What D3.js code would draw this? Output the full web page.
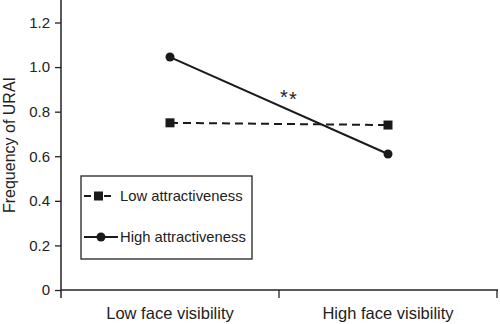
<!DOCTYPE html>
<html>
<head>
<meta charset="utf-8">
<script src="https://cdn.jsdelivr.net/npm/d3@7"></script>
<style>
  body { margin: 0; background: #fff; }
  svg { display: block; font-family: "Liberation Sans", Arial, sans-serif; }
</style>
</head>
<body>
<div id="chart"></div>
<script>
// Data
const categories = ['Low face visibility', 'High face visibility'];
const lowAttractiveness = [0.75, 0.74];
const highAttractiveness = [1.045, 0.61];
const yTicks = [0, 0.2, 0.4, 0.6, 0.8, 1.0, 1.2];
const seriesNames = ['Low attractiveness', 'High attractiveness'];

const width = 500, height = 324;
const svg = d3.select('#chart').append('svg')
    .attr('width', width)
    .attr('height', height);

const x = d3.scaleBand()
    .domain(categories)
    .range([61, 497])
    .padding(0);

const y = d3.scaleLinear()
    .domain([0, 1.2])
    .range([290, 22.5]);

// y axis
const yAxis = svg.append('g')
    .attr('transform', 'translate(61,0)')
    .call(d3.axisLeft(y).tickValues(yTicks).tickSize(6).tickPadding(5)
        .tickFormat(d => d === 0 ? '0' : d3.format('.1f')(d)));
yAxis.select('.domain').remove();
yAxis.selectAll('line').attr('stroke', '#222').attr('stroke-width', 1.3);
yAxis.selectAll('text').attr('font-size', 15).attr('fill', '#222')
    .attr('font-family', '"Liberation Sans", Arial, sans-serif');
svg.append('line')
    .attr('x1', 61).attr('x2', 61)
    .attr('y1', 0).attr('y2', y(0) + 8)
    .attr('stroke', '#222').attr('stroke-width', 1.5);

// x axis
const xAxis = svg.append('g')
    .attr('transform', `translate(0,${y(0)})`)
    .call(d3.axisBottom(x).tickSize(0).tickPadding(17));
xAxis.select('.domain').remove();
xAxis.selectAll('text').attr('font-size', 16.5).attr('fill', '#222')
    .attr('font-family', '"Liberation Sans", Arial, sans-serif');
svg.append('line')
    .attr('x1', 61).attr('x2', 498)
    .attr('y1', y(0)).attr('y2', y(0))
    .attr('stroke', '#222').attr('stroke-width', 1.5);
const bounds = [x(categories[0]), x(categories[1]), x(categories[1]) + x.bandwidth()];
svg.selectAll('.xtick')
    .data(bounds.slice(1))
    .enter().append('line')
    .attr('x1', d => d).attr('x2', d => d)
    .attr('y1', y(0)).attr('y2', y(0) + 8)
    .attr('stroke', '#222').attr('stroke-width', 1.3);

// y label
svg.append('text')
    .attr('transform', 'translate(15,145) rotate(-90)')
    .attr('text-anchor', 'middle')
    .attr('font-size', 16)
    .attr('fill', '#222')
    .text('Frequency of URAI');

const cx = d => x(d) + x.bandwidth() / 2;
const line = d3.line()
    .x((d, i) => cx(categories[i]))
    .y(d => y(d));

// low attractiveness (dashed, squares)
svg.append('path')
    .datum(lowAttractiveness)
    .attr('d', line)
    .attr('fill', 'none')
    .attr('stroke', '#1a1a1a')
    .attr('stroke-width', 2)
    .attr('stroke-dasharray', '8,5');
svg.selectAll('.sq')
    .data(lowAttractiveness)
    .enter().append('rect')
    .attr('x', (d, i) => cx(categories[i]) - 4.5)
    .attr('y', d => y(d) - 4.5)
    .attr('width', 9).attr('height', 9)
    .attr('fill', '#1a1a1a');

// high attractiveness (solid, circles)
svg.append('path')
    .datum(highAttractiveness)
    .attr('d', line)
    .attr('fill', 'none')
    .attr('stroke', '#1a1a1a')
    .attr('stroke-width', 2);
svg.selectAll('.dot')
    .data(highAttractiveness)
    .enter().append('circle')
    .attr('cx', (d, i) => cx(categories[i]))
    .attr('cy', d => y(d))
    .attr('r', 4.5)
    .attr('fill', '#1a1a1a');

// significance (two asterisks, second slightly lower)
svg.append('text')
    .attr('x', 284).attr('y', 104)
    .attr('text-anchor', 'middle')
    .attr('font-size', 20)
    .attr('fill', '#222')
    .text('*');
svg.append('text')
    .attr('x', 293).attr('y', 106)
    .attr('text-anchor', 'middle')
    .attr('font-size', 20)
    .attr('fill', '#222')
    .text('*');

// legend
const legend = svg.append('g').attr('transform', 'translate(81,176)');
legend.append('rect')
    .attr('width', 171).attr('height', 83)
    .attr('fill', '#fff')
    .attr('stroke', '#222').attr('stroke-width', 1.3);
seriesNames.forEach((name, i) => {
    const g = legend.append('g').attr('transform', `translate(0,${20 + i * 41})`);
    g.append('line')
        .attr('x1', 3).attr('x2', i === 0 ? 30 : 37)
        .attr('stroke', '#1a1a1a').attr('stroke-width', 2)
        .attr('stroke-dasharray', i === 0 ? '7,3' : null);
    if (i === 0) {
        g.append('rect').attr('x', 13).attr('y', -4.5).attr('width', 9).attr('height', 9).attr('fill', '#1a1a1a');
    } else {
        g.append('circle').attr('cx', 20).attr('r', 4.5).attr('fill', '#1a1a1a');
    }
    g.append('text')
        .attr('x', 39)
        .attr('dy', '0.35em')
        .attr('font-size', 14.8)
        .attr('fill', '#222')
        .text(name);
});
</script>
</body>
</html>
